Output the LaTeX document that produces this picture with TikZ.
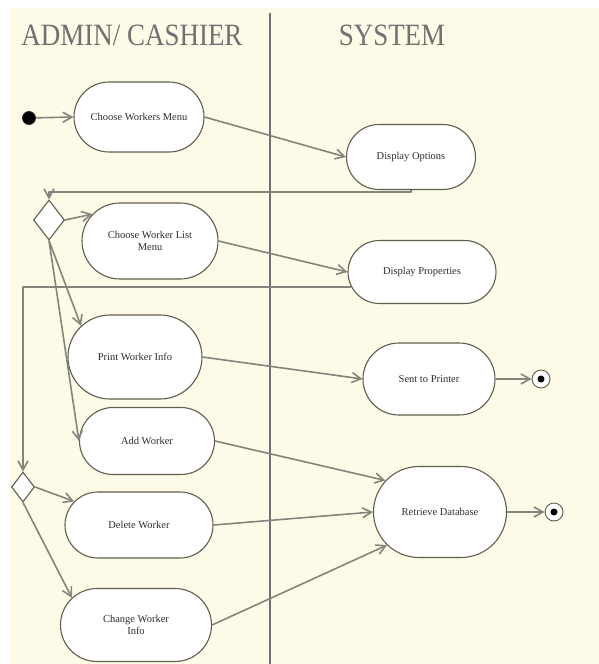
\documentclass[tikz,border=0pt]{standalone}
\usepackage{fontspec}
\setmainfont{Liberation Serif}
\usetikzlibrary{shapes.misc,shapes.geometric,arrows.meta}

\definecolor{paper}{RGB}{253,250,232}
\definecolor{edge}{RGB}{132,132,124}
\definecolor{outline}{RGB}{95,95,78}
\definecolor{titlegray}{RGB}{112,112,112}
\definecolor{label}{RGB}{45,45,45}

\begin{document}
\begin{tikzpicture}[x=1pt,y=-1pt,
  activity/.style={rounded rectangle, draw=outline, line width=1.1pt, fill=white,
    inner sep=0pt, font=\fontsize{10.5}{12}\selectfont, text=label, align=center},
  choice/.style={diamond, draw=outline, line width=1.1pt, fill=white, inner sep=0pt},
  flow/.style={draw=edge, line width=1.6pt, line join=round,
    -{Straight Barb[length=9pt,width=10pt]}},
  lane/.style={font=\fontsize{31}{31}\selectfont, text=titlegray, anchor=base, inner sep=0pt},
  divider/.style={draw=titlegray, line width=1.3pt}
]
\useasboundingbox (0,0) rectangle (599,664);
\fill[white] (0,0) rectangle (599,664);
\fill[paper] (10,8) rectangle (599,664);

% swimlane headers and separator
\node[lane] (lanea) at (132,45) {\scalebox{0.87}[1]{ADMIN/ CASHIER}};
\node[lane] (laneb) at (392,45) {\scalebox{0.87}[1]{SYSTEM}};
\draw[divider] (270,13) -- (270,664);

% activities
\node[activity, minimum width=130pt, minimum height=70pt] (cwm)   at (139,117) {Choose Workers Menu};
\node[activity, minimum width=129pt, minimum height=65pt] (dopt)  at (411,157) {Display Options};
\node[activity, minimum width=136pt, minimum height=76pt] (cwlm)  at (150,241) {Choose Worker List\\Menu};
\node[activity, minimum width=148pt, minimum height=63pt] (dprop) at (422,272) {Display Properties};
\node[activity, minimum width=134pt, minimum height=84pt] (pwi)   at (135,357) {Print Worker Info};
\node[activity, minimum width=132pt, minimum height=72pt] (stp)   at (429,379) {Sent to Printer};
\node[activity, minimum width=135pt, minimum height=67pt] (aw)    at (147,441) {Add Worker};
\node[activity, minimum width=133pt, minimum height=91pt] (rdb)   at (440,512) {Retrieve Database};
\node[activity, minimum width=148pt, minimum height=66pt] (dw)    at (139,525) {Delete Worker};
\node[activity, minimum width=151pt, minimum height=73pt] (cwi)   at (136,625) {Change Worker\\Info};

% decisions
\node[choice, minimum width=31pt, minimum height=40pt] (d1) at (49,220) {};
\node[choice, minimum width=23pt, minimum height=30pt] (d2) at (23,487) {};

% start and end states
\node[circle, fill=black, draw=black!85, line width=0.8pt, minimum size=13pt, inner sep=0pt] (start) at (29,118) {};
\node[circle, draw=outline, line width=0.9pt, fill=white, minimum size=18pt, inner sep=0pt] (end1) at (541,379) {};
\node[circle, fill=black, minimum size=7pt, inner sep=0pt] (end1dot) at (end1) {};
\node[circle, draw=outline, line width=0.9pt, fill=white, minimum size=18pt, inner sep=0pt] (end2) at (554,512) {};
\node[circle, fill=black, minimum size=7pt, inner sep=0pt] (end2dot) at (end2) {};

% merge points of the return paths
\coordinate (j1) at (49,192);

% transitions
\draw[flow] (start) -- (cwm.west);
\draw[flow] (cwm.east) -- (dopt.west);
\draw[flow] (dopt.south) |- (j1) -- (d1.north);
\draw[flow] (d1.east) -- (cwlm.155);
\draw[flow] (d1.south) -- (pwi.150);
\draw[flow] (d1.south) -- (aw.west);
\draw[flow] (cwlm.east) -- (dprop.west);
\draw[flow] (dprop.192) -| (d2.north);
\draw[flow] (pwi.east) -- (stp.west);
\draw[flow] (stp.east) -- (end1);
\draw[flow] (d2.east) -- (dw.160);
\draw[flow] (d2.south) -- (cwi.157);
\draw[flow] (aw.east) -- (rdb.150);
\draw[flow] (dw.east) -- (rdb.west);
\draw[flow] (cwi.east) -- (rdb.212);
\draw[flow] (rdb.east) -- (end2);
\end{tikzpicture}
\end{document}
